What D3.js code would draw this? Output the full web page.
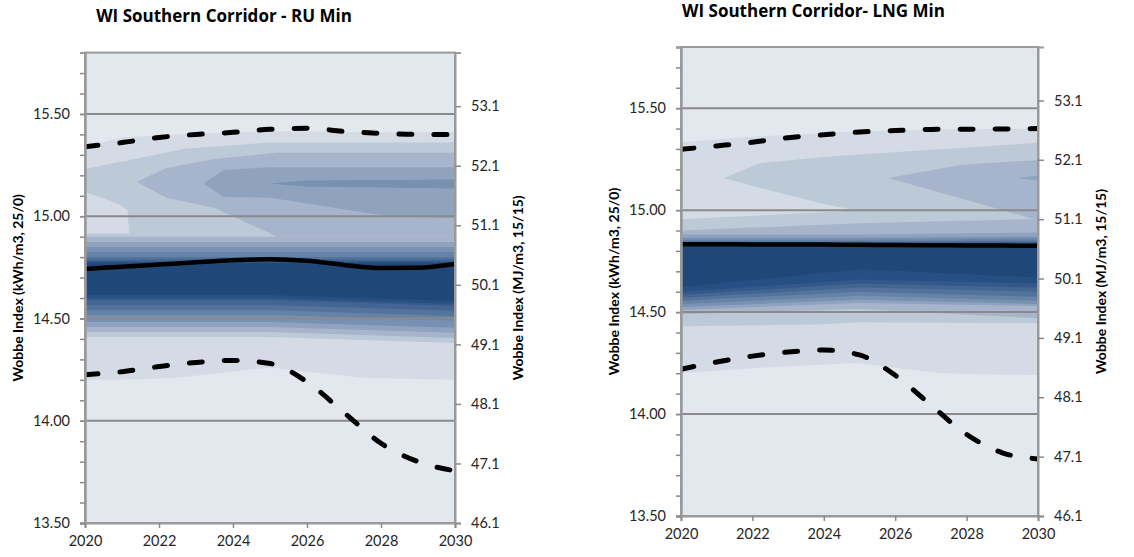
<!DOCTYPE html>
<html>
<head>
<meta charset="utf-8">
<script src="https://cdn.jsdelivr.net/npm/d3@7"></script>
<style>
  body { margin: 0; background: #fff; }
  text { font-family: Lato, "Open Sans", sans-serif; }
</style>
</head>
<body>
<script>
var width = 1134,
    height = 557;

var years = [2020, 2021, 2022, 2023, 2024, 2025, 2026, 2027, 2028, 2029, 2030];
var yearTicks = [2020, 2022, 2024, 2026, 2028, 2030];
var kwhTicks = [13.5, 14.0, 14.5, 15.0, 15.5];
var mjTicks = [46.1, 47.1, 48.1, 49.1, 50.1, 51.1, 52.1, 53.1];

// RU Min: median (solid) and outer percentiles (dashed)
var ruMedian = [14.742, 14.753, 14.764, 14.775, 14.785, 14.79, 14.782, 14.762, 14.747, 14.748, 14.766];
var ruUpper = [15.34, 15.36, 15.385, 15.40, 15.41, 15.425, 15.43, 15.415, 15.405, 15.40, 15.40];
var ruLower = [14.225, 14.24, 14.265, 14.285, 14.295, 14.28, 14.19, 14.04, 13.89, 13.80, 13.755];

// LNG Min
var lngMedian = [14.833, 14.833, 14.832, 14.832, 14.831, 14.83, 14.829, 14.828, 14.827, 14.826, 14.825];
var lngUpper = [15.298, 15.315, 15.333, 15.355, 15.37, 15.383, 15.39, 15.396, 15.397, 15.398, 15.40];
var lngLower = [14.22, 14.255, 14.284, 14.304, 14.314, 14.29, 14.19, 14.044, 13.90, 13.81, 13.78];

// density contour bands, level 1 (lightest) .. 11 (darkest)
var ruBands = [
  { level: 1, yr: [2020, 2021, 2022.5, 2025, 2027.5, 2030], hi: [15.34, 15.385, 15.40, 15.415, 15.41, 15.41], lo: [14.20, 14.20, 14.21, 14.26, 14.21, 14.20] },
  { level: 2, yr: [2020, 2020.9, 2021.15, 2021.2, 2022.7, 2025, 2030], hi: [15.23, 15.265, 15.27, 15.275, 15.33, 15.36, 15.36], lo: [15.12, 15.06, 15.03, 14.90, 14.90, 14.90, 14.90] },
  { level: 2, yr: [2020, 2025, 2030], hi: [14.915, 14.915, 14.915], lo: [14.41, 14.41, 14.38] },
  { level: 3, yr: [2021.4, 2022.2, 2023.5, 2025.2, 2030], hi: [15.167, 15.236, 15.28, 15.31, 15.31], lo: [15.167, 15.09, 15.04, 14.90, 14.90] },
  { level: 3, yr: [2020, 2025, 2030], hi: [14.90, 14.90, 14.90], lo: [14.434, 14.434, 14.405] },
  { level: 4, yr: [2023.2, 2023.75, 2025, 2028.2, 2030], hi: [15.16, 15.226, 15.24, 15.24, 15.24], lo: [15.16, 15.094, 15.09, 15.0, 14.99] },
  { level: 4, yr: [2020, 2025, 2030], hi: [14.874, 14.874, 14.874], lo: [14.458, 14.458, 14.43] },
  { level: 5, yr: [2024.95, 2026, 2030], hi: [15.16, 15.175, 15.18], lo: [15.16, 15.145, 15.135] },
  { level: 5, yr: [2020, 2025, 2030], hi: [14.85, 14.85, 14.85], lo: [14.483, 14.483, 14.455] },
  { level: 6, yr: [2020, 2025, 2030], hi: [14.825, 14.825, 14.825], lo: [14.517, 14.517, 14.49] },
  { level: 7, yr: [2020, 2025, 2030], hi: [14.80, 14.80, 14.80], lo: [14.54, 14.54, 14.512] },
  { level: 8, yr: [2020, 2025, 2030], hi: [14.79, 14.79, 14.79], lo: [14.566, 14.566, 14.538] },
  { level: 9, yr: [2020, 2025, 2030], hi: [14.78, 14.78, 14.78], lo: [14.59, 14.59, 14.562] },
  { level: 10, yr: [2020, 2025, 2030], hi: [14.775, 14.775, 14.775], lo: [14.60, 14.60, 14.572] },
  { level: 11, yr: [2020, 2025, 2030], hi: [14.77, 14.77, 14.77], lo: [14.615, 14.615, 14.585] }
];

var lngBands = [
  { level: 1, yr: [2020, 2022, 2024.9, 2027.3, 2030], hi: [15.333, 15.36, 15.385, 15.395, 15.40], lo: [14.20, 14.225, 14.25, 14.20, 14.19] },
  { level: 2, yr: [2021.2, 2022.2, 2024, 2025.2, 2030], hi: [15.157, 15.23, 15.26, 15.275, 15.33], lo: [15.157, 15.11, 15.03, 14.99, 14.99] },
  { level: 2, yr: [2020, 2024, 2025, 2030], hi: [14.955, 14.99, 15.0, 15.0], lo: [14.43, 14.44, 14.45, 14.445] },
  { level: 3, yr: [2025.8, 2027.8, 2028.5, 2030], hi: [15.157, 15.22, 15.23, 15.245], lo: [15.157, 15.06, 15.025, 14.95] },
  { level: 3, yr: [2020, 2025, 2030], hi: [14.90, 14.936, 14.956], lo: [14.49, 14.515, 14.47] },
  { level: 4, yr: [2029.4, 2030], hi: [15.157, 15.17], lo: [15.157, 15.145] },
  { level: 4, yr: [2020, 2025, 2030], hi: [14.88, 14.88, 14.89], lo: [14.51, 14.545, 14.53] },
  { level: 5, yr: [2020, 2025, 2030], hi: [14.865, 14.865, 14.87], lo: [14.525, 14.56, 14.54] },
  { level: 6, yr: [2020, 2025, 2030], hi: [14.855, 14.855, 14.86], lo: [14.54, 14.58, 14.555] },
  { level: 7, yr: [2020, 2025, 2030], hi: [14.848, 14.848, 14.85], lo: [14.555, 14.60, 14.575] },
  { level: 8, yr: [2020, 2025, 2030], hi: [14.842, 14.842, 14.845], lo: [14.57, 14.62, 14.60] },
  { level: 9, yr: [2020, 2025, 2030], hi: [14.838, 14.838, 14.84], lo: [14.585, 14.64, 14.62] },
  { level: 10, yr: [2020, 2025, 2030], hi: [14.834, 14.834, 14.835], lo: [14.60, 14.66, 14.64] },
  { level: 11, yr: [2020, 2025, 2030], hi: [14.83, 14.83, 14.83], lo: [14.623, 14.71, 14.67] }
];

var shades = ["#e3e7ee", "#d4dbe4", "#bcc9d7", "#a6b5cb", "#8fa3bf", "#7891b2",
              "#6582a7", "#54739c", "#436592", "#345889", "#284f82", "#1f4879"];

var svg = d3.select("body").append("svg")
    .attr("width", width)
    .attr("height", height);

drawPanel({
  id: "ru", title: "WI Southern Corridor - RU Min", titleY: 22,
  x0: 85, x1: 455, y0: 52.6, y1: 523,
  bands: ruBands, median: ruMedian, upper: ruUpper, lower: ruLower
});

drawPanel({
  id: "lng", title: "WI Southern Corridor- LNG Min", titleY: 17,
  x0: 681, x1: 1038, y0: 47, y1: 516,
  bands: lngBands, median: lngMedian, upper: lngUpper, lower: lngLower
});

function drawPanel(p) {
  var x = d3.scaleLinear().domain([2020, 2030]).range([p.x0, p.x1]);
  var y = d3.scaleLinear().domain([13.5, 15.8]).range([p.y1, p.y0]);
  var yMJ = d3.scaleLinear().domain([46.1, 54.0]).range([p.y1, p.y0]);

  var g = svg.append("g").attr("class", "panel-" + p.id);

  g.append("clipPath").attr("id", "clip-" + p.id)
    .append("rect")
    .attr("x", p.x0).attr("y", p.y0)
    .attr("width", p.x1 - p.x0).attr("height", p.y1 - p.y0);

  g.append("rect")
    .attr("x", p.x0).attr("y", p.y0)
    .attr("width", p.x1 - p.x0).attr("height", p.y1 - p.y0)
    .attr("fill", shades[0]);

  var plot = g.append("g").attr("clip-path", "url(#clip-" + p.id + ")");

  var area = d3.area()
    .x(function (d) { return x(d[0]); })
    .y0(function (d) { return y(d[1]); })
    .y1(function (d) { return y(d[2]); });

  plot.selectAll(".band")
    .data(p.bands)
    .enter().append("path")
    .attr("class", "band")
    .attr("fill", function (d) { return shades[d.level]; })
    .attr("d", function (d) {
      return area(d.yr.map(function (t, i) { return [t, d.lo[i], d.hi[i]]; }));
    });

  // horizontal gridlines
  plot.selectAll(".grid")
    .data(kwhTicks.slice(1))
    .enter().append("line")
    .attr("x1", p.x0).attr("x2", p.x1)
    .attr("y1", function (d) { return y(d); })
    .attr("y2", function (d) { return y(d); })
    .attr("stroke", "#8a8a8a")
    .attr("stroke-width", 2);

  var line = d3.line()
    .x(function (d, i) { return x(years[i]); })
    .y(function (d) { return y(d); })
    .curve(d3.curveMonotoneX);

  [p.upper, p.lower].forEach(function (s) {
    plot.append("path")
      .attr("d", line(s))
      .attr("fill", "none")
      .attr("stroke", "#000")
      .attr("stroke-width", 5)
      .attr("stroke-linecap", "round")
      .attr("stroke-dasharray", "13,22");
  });

  plot.append("path")
    .attr("d", line(p.median))
    .attr("fill", "none")
    .attr("stroke", "#000")
    .attr("stroke-width", 4.5);

  // frame
  g.append("rect")
    .attr("x", p.x0).attr("y", p.y0)
    .attr("width", p.x1 - p.x0).attr("height", p.y1 - p.y0)
    .attr("fill", "none")
    .attr("stroke", "#9a9a9a")
    .attr("stroke-width", 2);

  // axes
  var minor = g.append("g")
    .attr("transform", "translate(" + p.x0 + ",0)")
    .call(d3.axisLeft(y).tickValues(d3.range(13.5, 15.85, 0.1)).tickSize(5).tickFormat(""));

  var left = g.append("g")
    .attr("transform", "translate(" + p.x0 + ",0)")
    .call(d3.axisLeft(y).tickValues(kwhTicks).tickSize(5).tickPadding(10).tickFormat(d3.format(".2f")));

  var right = g.append("g")
    .attr("transform", "translate(" + p.x1 + ",0)")
    .call(d3.axisRight(yMJ).tickValues(mjTicks).tickSize(6).tickPadding(10).tickFormat(d3.format(".1f")));

  var bottom = g.append("g")
    .attr("transform", "translate(0," + p.y1 + ")")
    .call(d3.axisBottom(x).tickValues(yearTicks).tickSize(5).tickPadding(8).tickFormat(d3.format("d")));

  [minor, left, right, bottom].forEach(function (a) {
    a.select(".domain").attr("stroke", "#9a9a9a").attr("stroke-width", 2);
    a.selectAll(".tick line").attr("stroke", "#8a8a8a").attr("stroke-width", 1.5);
    a.selectAll(".tick text").attr("fill", "#262626").style("font-size", "14.5px");
  });

  // titles
  g.append("text")
    .attr("x", (p.x0 + p.x1) / 2 - 46)
    .attr("y", p.titleY)
    .attr("text-anchor", "middle")
    .style("font-family", "'Open Sans', sans-serif")
    .style("font-size", "17px")
    .style("font-weight", "bold")
    .text(p.title);

  var midY = (p.y0 + p.y1) / 2;

  g.append("text")
    .attr("transform", "translate(" + (p.x0 - 67) + "," + midY + ") rotate(-90)")
    .attr("dy", "0.35em")
    .attr("text-anchor", "middle")
    .style("font-size", "14px")
    .style("font-weight", "bold")
    .text("Wobbe Index (kWh/m3, 25/0)");

  g.append("text")
    .attr("transform", "translate(" + (p.x1 + 63) + "," + midY + ") rotate(-90)")
    .attr("dy", "0.35em")
    .attr("text-anchor", "middle")
    .style("font-size", "14px")
    .style("font-weight", "bold")
    .text("Wobbe Index (MJ/m3, 15/15)");
}
</script>
</body>
</html>
